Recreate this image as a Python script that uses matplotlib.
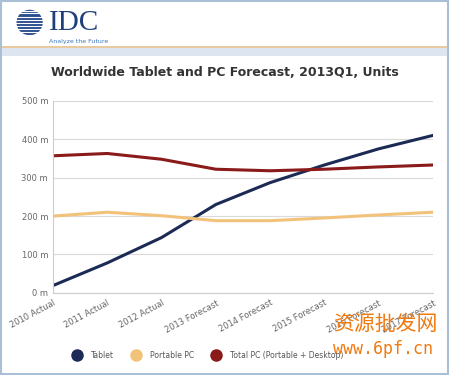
import numpy as np
import matplotlib.pyplot as plt
from matplotlib.patches import Rectangle, Ellipse
from matplotlib.lines import Line2D

years = ["2010 Actual", "2011 Actual", "2012 Actual", "2013 Forecast",
         "2014 Forecast", "2015 Forecast", "2016 Forecast", "2017 Forecast"]
tablet = [19, 78, 144, 230, 287, 333, 375, 410]
portable = [200, 210, 201, 188, 188, 195, 203, 210]
total_pc = [357, 363, 348, 322, 318, 322, 328, 333]
names = ["Tablet", "Portable PC", "Total PC (Portable + Desktop)"]
yticks = [0, 100, 200, 300, 400, 500]

c_tab = "#1c2b55"
c_port = "#f2c27a"
c_tot = "#8b1a1a"
colors = [c_tab, c_port, c_tot]

fig = plt.figure(figsize=(4.49, 3.75), dpi=100)
fig.patch.set_facecolor("white")

# frame and header band
fig.add_artist(Rectangle((0.003, 0.003), 0.994, 0.994, transform=fig.transFigure,
                         fill=False, ec="#a9bfd6", lw=1.5))
fig.add_artist(Rectangle((0.005, 0.85), 0.99, 0.025, transform=fig.transFigure,
                         fc="#dde6f0", ec="none"))
fig.add_artist(Rectangle((0.005, 0.873), 0.99, 0.004, transform=fig.transFigure,
                         fc="#e8c9a0", ec="none"))

# IDC logo
logo = fig.add_axes([0.027, 0.90, 0.078, 0.08])
logo.set_xlim(-1, 1)
logo.set_ylim(-1, 1)
logo.axis("off")
logo.add_patch(Ellipse((0, 0), 1.5, 1.7, fc="#2a4f8f", ec="none"))
for yy in np.linspace(-0.8, 0.8, 9):
    logo.plot([-1, 1], [yy, yy], color="white", lw=0.8)
fig.text(0.11, 0.94, "IDC", fontsize=21, family="Liberation Serif", color="#1f3f7a",
         va="center")
fig.text(0.11, 0.888, "Analyze the Future", fontsize=4.5, color="#3a78c0", va="center")

fig.text(0.5, 0.808, "Worldwide Tablet and PC Forecast, 2013Q1, Units",
         ha="center", va="center", fontsize=9, fontweight="bold", color="#333333")

ax = fig.add_axes([0.118, 0.219, 0.846, 0.512])
x = np.arange(len(years))
for vals, c, n in zip([tablet, portable, total_pc], colors, names):
    ax.plot(x, vals, color=c, lw=2.2, label=n)

ax.set_xlim(0, len(years) - 1)
ax.set_ylim(0, 500)
ax.set_yticks(yticks)
ax.set_yticklabels([f"{v} m" for v in yticks])
ax.set_xticks(x)
ax.set_xticklabels(years, rotation=28, ha="right", rotation_mode="anchor")
ax.tick_params(axis="both", length=0, labelsize=6, colors="#666666")
ax.tick_params(axis="x", pad=4)
ax.grid(axis="y", color="#d9d9d9", lw=0.8)
for s in ["top", "right"]:
    ax.spines[s].set_visible(False)
ax.spines["left"].set_color("#cccccc")
ax.spines["bottom"].set_color("#cccccc")

handles = [Line2D([], [], ls="none", marker="o", ms=8, color=c) for c in colors]
fig.legend(handles, names, loc="center", bbox_to_anchor=(0.46, 0.053), ncol=3,
           frameon=False, fontsize=5.5, handletextpad=0.9, columnspacing=1.8,
           labelcolor="#555555")

fig.text(0.975, 0.135, "资源批发网", family=["Noto Sans CJK SC", "DejaVu Sans"],
         fontsize=15, color="#f07a10", ha="right", va="center", style="italic")
fig.text(0.965, 0.068, "www.6pf.cn", family="DejaVu Sans Mono", fontsize=12,
         color="#f07a10", ha="right", va="center")

fig.savefig("out.png", dpi=100)
